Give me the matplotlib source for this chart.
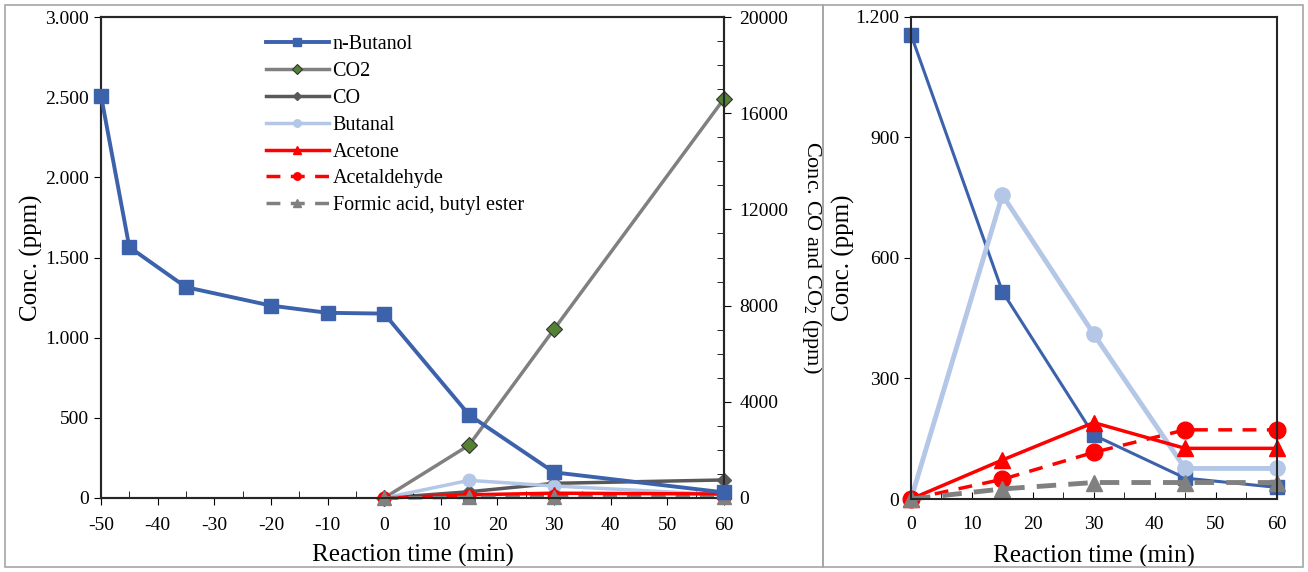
import matplotlib
matplotlib.use("Agg")
import matplotlib.pyplot as plt
from matplotlib.patches import Rectangle
from matplotlib.ticker import FuncFormatter, MultipleLocator

plt.rcParams['font.family'] = ['Liberation Serif', 'DejaVu Serif']
plt.rcParams['mathtext.fontset'] = 'custom'
plt.rcParams['mathtext.rm'] = 'Liberation Serif'
plt.rcParams['axes.unicode_minus'] = False

# left panel data
t_butanol = [-50, -45, -35, -20, -10, 0, 15, 30, 60]
butanol_left = [2510, 1565, 1315, 1200, 1155, 1150, 518, 160, 35]
t_left = [0, 15, 30, 60]
co2_left = [0, 2200, 7020, 16600]
co_left = [0, 260, 610, 750]
butanal_left = [0, 110, 75, 20]
acetone_left = [0, 20, 30, 25]
acetaldehyde_left = [0, 10, 15, 15]
formic_left = [0, 4, 5, 5]

# right panel data
t_right = [0, 15, 30, 45, 60]
butanol_right = [1155, 516, 159, 52, 29]
butanal_right = [0, 756, 410, 76, 76]
acetone_right = [0, 97, 190, 126, 126]
acetaldehyde_right = [0, 49, 116, 172, 172]
formic_right = [0, 25, 41, 41, 41]

BLUE = '#3C62AC'
LBLUE = '#B4C7E7'
RED = '#FF0000'
GRAY = '#808080'
DGRAY = '#595959'
GREEN = '#548235'

W, H = 1308, 572
fig = plt.figure(figsize=(W / 100, H / 100), dpi=100)

def fx(px):
    return px / W

def fy(py):
    return 1 - py / H

dot_fmt = FuncFormatter(lambda v, p: f"{v:,.0f}".replace(",", "."))

# outer frames
for x0, x1 in [(5, 823), (823, 1303)]:
    fig.patches.append(Rectangle((fx(x0), fy(567)), fx(x1) - fx(x0), fy(5) - fy(567),
                                 transform=fig.transFigure, fill=False,
                                 edgecolor='#A6A6A6', linewidth=1.2))

# ---- left panel ----
ax = fig.add_axes([fx(101), fy(498), fx(724) - fx(101), fy(17) - fy(498)])
ax2 = ax.twinx()

l1, = ax.plot(t_butanol, butanol_left, color=BLUE, lw=2.8, marker='s', ms=10,
              clip_on=False, zorder=5, label='n-Butanol')
l2, = ax2.plot(t_left, co2_left, color=GRAY, lw=2.5, marker='D', ms=8, mfc=GREEN,
               mec='#333333', mew=0.8, clip_on=False, label='CO2')
l3, = ax2.plot(t_left, co_left, color=DGRAY, lw=2.5, marker='D', ms=7, mfc=DGRAY,
               mec=DGRAY, clip_on=False, label='CO')
l4, = ax.plot(t_left, butanal_left, color=LBLUE, lw=2.5, marker='o', ms=9,
              clip_on=False, label='Butanal')
l5, = ax.plot(t_left, acetone_left, color=RED, lw=2.5, marker='^', ms=9,
              clip_on=False, label='Acetone')
l6, = ax.plot(t_left, acetaldehyde_left, color=RED, lw=2.5, ls=(0, (4, 3)), marker='o',
              ms=9, clip_on=False, label='Acetaldehyde')
l7, = ax.plot(t_left, formic_left, color=GRAY, lw=2.5, ls=(0, (4, 3)), marker='^',
              ms=10, clip_on=False, label='Formic acid, butyl ester')

ax.set_zorder(ax2.get_zorder() + 1)
ax.patch.set_visible(False)

ax.set_xlim(-50, 60)
ax.set_ylim(0, 3000)
ax2.set_ylim(0, 20000)
ax.xaxis.set_major_locator(MultipleLocator(10))
ax.xaxis.set_minor_locator(MultipleLocator(5))
ax.yaxis.set_major_locator(MultipleLocator(500))
ax.yaxis.set_major_formatter(dot_fmt)
ax2.yaxis.set_major_locator(MultipleLocator(4000))
ax2.yaxis.set_minor_locator(MultipleLocator(1000))

ax.tick_params(axis='x', which='major', direction='out', length=5, labelsize=14, pad=9)
ax.tick_params(axis='x', which='minor', direction='in', length=5)
ax.tick_params(axis='y', direction='out', length=5, labelsize=14)
ax2.tick_params(axis='y', which='major', direction='out', length=5, labelsize=14, pad=6)
ax2.tick_params(axis='y', which='minor', direction='in', length=5)

for a in (ax, ax2):
    for s in a.spines.values():
        s.set_linewidth(1.5)
        s.set_color('#262626')

ax.set_xlabel('Reaction time (min)', fontsize=18, labelpad=7)
ax.set_ylabel('Conc. (ppm)', fontsize=18, labelpad=2)
ax2.set_ylabel('Conc. CO and CO$_2$ (ppm)', fontsize=16, rotation=270, labelpad=26)

fig.legend(handles=[l1, l2, l3, l4, l5, l6, l7], loc='upper left',
           bbox_to_anchor=(fx(256), fy(25)), frameon=False, fontsize=14.5,
           handlelength=3.1, handletextpad=0.2, labelspacing=0.385,
           borderpad=0, markerscale=0.6)

# ---- right panel ----
bx = fig.add_axes([fx(911), fy(499), fx(1276.5) - fx(911), fy(16.5) - fy(499)])
bx.plot(t_right, butanol_right, color=BLUE, lw=2.2, marker='s', ms=10, clip_on=False)
bx.plot(t_right, butanal_right, color=LBLUE, lw=3.5, marker='o', ms=11, clip_on=False)
bx.plot(t_right, acetone_right, color=RED, lw=2.5, marker='^', ms=11, clip_on=False)
bx.plot(t_right, acetaldehyde_right, color=RED, lw=2.5, ls=(0, (4, 3)), marker='o',
        ms=12, clip_on=False)
bx.plot(t_right, formic_right, color=GRAY, lw=3.5, ls=(0, (4, 2.5)), marker='^',
        ms=11, clip_on=False)

bx.set_xlim(0, 60)
bx.set_ylim(0, 1200)
bx.xaxis.set_major_locator(MultipleLocator(10))
bx.xaxis.set_minor_locator(MultipleLocator(5))
bx.yaxis.set_major_locator(MultipleLocator(300))
bx.yaxis.set_major_formatter(dot_fmt)
bx.tick_params(axis='x', which='both', direction='in', length=5, labelsize=14, pad=12)
bx.tick_params(axis='y', direction='out', length=5, labelsize=14)
for s in bx.spines.values():
    s.set_linewidth(1.5)
    s.set_color('#262626')
bx.set_xlabel('Reaction time (min)', fontsize=18, labelpad=9)
bx.set_ylabel('Conc. (ppm)', fontsize=18, labelpad=0)

fig.savefig('out.png', dpi=100)
